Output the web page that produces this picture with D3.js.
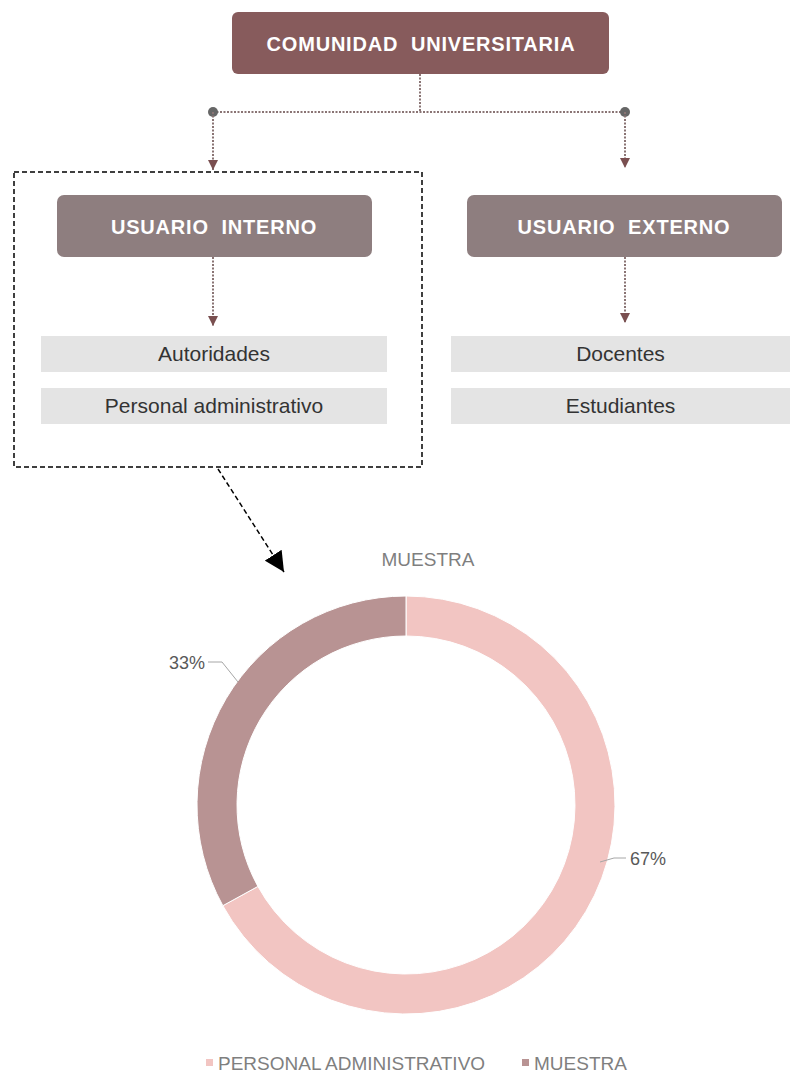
<!DOCTYPE html>
<meta charset="utf-8">
<style>
body { margin: 0; background: #fff; }
svg text { font-family: "Liberation Sans", Arial, sans-serif; }
</style>
<script src="https://d3js.org/d3.v7.min.js"></script>
<body>
<script>

var width = 790, height = 1076;

// chart data
var categories = ["PERSONAL ADMINISTRATIVO", "MUESTRA"];
var values = [67, 33];
var colors = ["#f2c5c2", "#b89393"];
var chartTitle = "MUESTRA";

// diagram text
var topLabel = "COMUNIDAD  UNIVERSITARIA";
var groupLabels = ["USUARIO  INTERNO", "USUARIO  EXTERNO"];
var internos = ["Autoridades", "Personal administrativo"];
var externos = ["Docentes", "Estudiantes"];

var svg = d3.select("body").append("svg")
    .attr("width", width)
    .attr("height", height);

var defs = svg.append("defs");
defs.append("marker")
    .attr("id", "tri")
    .attr("viewBox", "0 0 10 10")
    .attr("refX", 10).attr("refY", 5)
    .attr("markerWidth", 10).attr("markerHeight", 11)
    .attr("markerUnits", "userSpaceOnUse")
    .attr("orient", "auto")
    .append("path")
    .attr("d", "M0,0L10,5L0,10Z")
    .attr("fill", "#7a4f50");
defs.append("marker")
    .attr("id", "blk")
    .attr("viewBox", "0 0 10 10")
    .attr("refX", 10).attr("refY", 5)
    .attr("markerWidth", 20).attr("markerHeight", 20)
    .attr("markerUnits", "userSpaceOnUse")
    .attr("orient", "auto")
    .append("path")
    .attr("d", "M0,0L10,5L0,10Z")
    .attr("fill", "#000");

// --- org diagram ---
svg.append("rect")
    .attr("x", 232).attr("y", 12).attr("width", 377).attr("height", 62)
    .attr("rx", 6).attr("fill", "#875b5c");
svg.append("text")
    .attr("x", 421).attr("y", 51)
    .attr("text-anchor", "middle")
    .attr("fill", "#fff").attr("font-weight", "bold").attr("font-size", 20)
    .attr("letter-spacing", 0.8)
    .style("white-space", "pre")
    .text(topLabel);

function dotted(x1, y1, x2, y2, arrow) {
  var l = svg.append("line")
      .attr("x1", x1).attr("y1", y1).attr("x2", x2).attr("y2", y2)
      .attr("stroke", "#8a7474").attr("stroke-width", 2)
      .attr("stroke-dasharray", "2,1.5");
  if (arrow) l.attr("marker-end", "url(#tri)");
}
dotted(420, 74, 420, 112);
dotted(213, 112, 625, 112);
svg.selectAll(".jn").data([213, 625]).enter().append("circle")
    .attr("cx", d => d).attr("cy", 112).attr("r", 5).attr("fill", "#666");
dotted(213, 112, 213, 170, true);
dotted(625, 112, 625, 168, true);

var groupX = [57, 467];
svg.selectAll(".grp").data(groupLabels).enter().append("rect")
    .attr("x", (d, i) => groupX[i]).attr("y", 195)
    .attr("width", 315).attr("height", 62).attr("rx", 7)
    .attr("fill", "#8e7e7f");
svg.selectAll(".grpt").data(groupLabels).enter().append("text")
    .attr("x", (d, i) => groupX[i] + 157).attr("y", 234)
    .attr("text-anchor", "middle")
    .attr("fill", "#fff").attr("font-weight", "bold").attr("font-size", 20)
    .attr("letter-spacing", 0.8)
    .style("white-space", "pre")
    .text(d => d);
dotted(213, 257, 213, 326, true);
dotted(625, 257, 625, 323, true);

function items(list, x, w) {
  var g = svg.append("g");
  g.selectAll("rect").data(list).enter().append("rect")
      .attr("x", x).attr("y", (d, i) => 336 + i * 52)
      .attr("width", w).attr("height", 36)
      .attr("fill", "#e4e4e4");
  g.selectAll("text").data(list).enter().append("text")
      .attr("x", x + w / 2).attr("y", (d, i) => 361 + i * 52)
      .attr("text-anchor", "middle")
      .attr("fill", "#333").attr("font-size", 21)
      .text(d => d);
}
items(internos, 41, 346);
items(externos, 451, 339);

svg.append("rect")
    .attr("x", 14).attr("y", 172).attr("width", 408).attr("height", 295)
    .attr("fill", "none").attr("stroke", "#000").attr("stroke-width", 1.5)
    .attr("stroke-dasharray", "5,3");

svg.append("line")
    .attr("x1", 218).attr("y1", 469).attr("x2", 284).attr("y2", 572)
    .attr("stroke", "#000").attr("stroke-width", 1.5)
    .attr("stroke-dasharray", "5,3")
    .attr("marker-end", "url(#blk)");

// --- donut ---
var cx = 406, cy = 805, rOuter = 209, rInner = 169;

svg.append("text")
    .attr("x", 428).attr("y", 566)
    .attr("text-anchor", "middle")
    .attr("fill", "#7f7f7f").attr("font-size", 19)
    .text(chartTitle);

var pie = d3.pie().sort(null).value(d => d);
var arcs = pie(values);
var arc = d3.arc().innerRadius(rInner).outerRadius(rOuter);
var color = d3.scaleOrdinal().domain(categories).range(colors);

var gd = svg.append("g").attr("transform", "translate(" + cx + "," + cy + ")");
gd.selectAll("path").data(arcs).enter().append("path")
    .attr("d", arc)
    .attr("fill", (d, i) => color(categories[i]))
    .attr("stroke", "#fff").attr("stroke-width", 1);

// percentage labels with leader lines
var labelPos = [[630, 865], [205, 669]];
var leader = [
  [[600, 862], [614, 858], [626, 858]],
  [[208, 662], [222, 662], [238, 682]]
];
var total = d3.sum(values);
svg.selectAll(".lead").data(leader).enter().append("polyline")
    .attr("points", d => d.map(p => p.join(",")).join(" "))
    .attr("fill", "none").attr("stroke", "#a6a6a6").attr("stroke-width", 1);
svg.selectAll(".pct").data(values).enter().append("text")
    .attr("x", (d, i) => labelPos[i][0])
    .attr("y", (d, i) => labelPos[i][1])
    .attr("text-anchor", (d, i) => i === 0 ? "start" : "end")
    .attr("fill", "#595959").attr("font-size", 18)
    .text(d => Math.round(d / total * 100) + "%");

// legend
var legX = [206, 522];
var lg = svg.selectAll(".leg").data(categories).enter().append("g")
    .attr("transform", (d, i) => "translate(" + legX[i] + ",1063)");
lg.append("rect").attr("x", 0).attr("y", -4).attr("width", 7).attr("height", 7)
    .attr("fill", d => color(d));
lg.append("text").attr("x", 12).attr("y", 7)
    .attr("fill", "#7f7f7f").attr("font-size", 19)
    .text(d => d);

</script>
</body>
